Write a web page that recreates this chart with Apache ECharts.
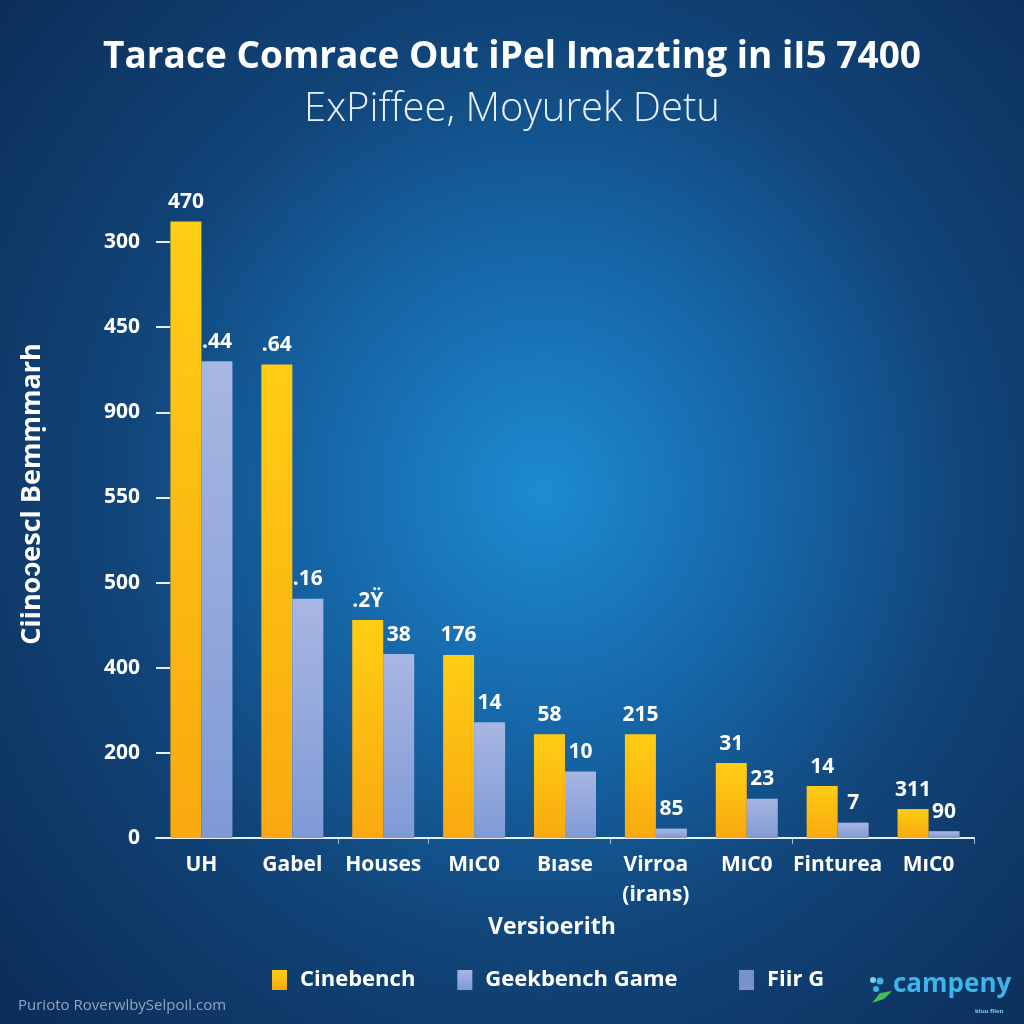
<!DOCTYPE html>
<html>
<head>
<meta charset="utf-8">
<script src="https://cdn.jsdelivr.net/npm/echarts@6/dist/echarts.min.js"></script>
<style>
html,body{margin:0;padding:0;}
#chart{width:1024px;height:1024px;background:radial-gradient(ellipse 70% 75% at 53% 48%, #1d8bd0 0%, #1668aa 30%, #114478 60%, #0c2d58 100%);}
</style>
</head>
<body>
<div id="chart"></div>
<script>
const categories = ['UH', 'Gabel', 'Houses', 'MıC0', 'Bıase', 'Virroa\n(irans)', 'MıC0', 'Finturea', 'MıC0'];
const yTickLabels = ['0', '200', '400', '500', '550', '900', '450', '300'];
const cinebench = [7.24, 5.56, 2.56, 2.15, 1.22, 1.22, 0.88, 0.61, 0.34];
const geekbench = [5.60, 2.81, 2.16, 1.36, 0.78, 0.11, 0.46, 0.18, 0.08];
const cinebenchLabels = ['470', '.64', '.2\u0178', '176', '58', '215', '31', '14', '311'];
const geekbenchLabels = ['.44', '.16', '38', '14', '10', '85', '23', '7', '90'];
const seriesNames = ['Cinebench', 'Geekbench Game', 'Fiir G'];

const FONT = '"Open Sans", "Noto Sans", sans-serif';
const chart = echarts.init(document.getElementById('chart'), null, {renderer: 'canvas'});

const labelStyle = {
  show: true, position: 'top', distance: 9,
  color: '#ffffff', fontFamily: FONT, fontWeight: 'bold', fontSize: 21
};
const legendText = {color: '#ffffff', fontFamily: FONT, fontWeight: 'bold', fontSize: 22, padding: [0, 0, 0, 8]};

chart.setOption({
  backgroundColor: 'transparent',
  title: [
    {text: 'Tarace Comrace Out iPel Imazting in iI5 7400', left: 'center', top: 34,
     textStyle: {color: '#ffffff', fontFamily: FONT, fontWeight: 'bold', fontSize: 37}},
    {text: 'ExPiffee, Moyurek Detu', left: 'center', top: 85,
     textStyle: {color: '#e8f0fa', fontFamily: FONT, fontWeight: 300, fontSize: 40}}
  ],
  legend: [
    {left: 267, top: 964, itemWidth: 15, itemHeight: 20, itemGap: 42, icon: 'rect',
     data: [seriesNames[0], seriesNames[1]], textStyle: legendText},
    {left: 734, top: 964, itemWidth: 15, itemHeight: 20, icon: 'rect',
     data: [seriesNames[2]], textStyle: legendText}
  ],
  grid: {left: 156, right: 50, top: 242, bottom: 186, containLabel: false},
  xAxis: {
    type: 'category', data: categories,
    axisLine: {show: true, lineStyle: {color: '#e6eef8', width: 2}},
    axisTick: {show: true, length: 6, interval: function (i) { return i === 2 || i === 3 || i === 5 || i === 7; },
      lineStyle: {color: 'rgba(230,238,248,0.7)', width: 1}},
    axisLabel: {color: '#ffffff', fontFamily: FONT, fontWeight: 'bold', fontSize: 21, margin: 12, lineHeight: 30, interval: 0},
    name: 'Versioerith', nameLocation: 'middle', nameGap: 78,
    nameTextStyle: {color: '#ffffff', fontFamily: FONT, fontWeight: 'bold', fontSize: 23, padding: [0, 26, 0, 0]}
  },
  yAxis: {
    type: 'value', min: 0, max: 7, interval: 1,
    axisLine: {show: false},
    axisTick: {show: true, inside: true, length: 14, lineStyle: {color: '#e6eef8', width: 2}},
    splitLine: {show: false},
    axisLabel: {color: '#ffffff', fontFamily: FONT, fontWeight: 'bold', fontSize: 21, margin: 16,
      formatter: function (v) { return Number.isInteger(v) ? (yTickLabels[v] || '') : ''; }}
  },
  series: [
    {
      name: seriesNames[0], type: 'bar', data: cinebench, barWidth: 31, barGap: '0%', clip: false,
      itemStyle: {color: new echarts.graphic.LinearGradient(0, 0, 0, 1, [
        {offset: 0, color: '#ffcd14'}, {offset: 1, color: '#f9a90f'}])},
      label: Object.assign({}, labelStyle, {formatter: function (p) { return cinebenchLabels[p.dataIndex]; }})
    },
    {
      name: seriesNames[1], type: 'bar', data: geekbench, barWidth: 31, barGap: '0%', clip: false,
      itemStyle: {color: new echarts.graphic.LinearGradient(0, 0, 0, 1, [
        {offset: 0, color: '#a8b6e2'}, {offset: 1, color: '#7e9ad6'}])},
      label: Object.assign({}, labelStyle, {formatter: function (p) { return geekbenchLabels[p.dataIndex]; }})
    },
    {
      name: seriesNames[2], type: 'scatter', data: [],
      itemStyle: {color: '#93a8dd'}
    }
  ],
  graphic: [
    {type: 'text', x: 32, y: 494, rotation: Math.PI / 2,
     style: {text: 'Ciinoɔescl Bemṃmarh', fill: '#ffffff', font: 'bold 27px "Open Sans", sans-serif',
       textAlign: 'center', textVerticalAlign: 'middle'}},
    {type: 'text', left: 18, top: 998,
     style: {text: 'Purioto RoverwlbySelpoil.com', fill: '#8fa4c0', font: '15px "Open Sans", sans-serif'}},
    {type: 'text', left: 893, top: 972,
     style: {text: 'campeny', fill: '#3cb6ea', font: 'bold 26px "Open Sans", sans-serif'}},
    {type: 'text', left: 975, top: 1008,
     style: {text: 'bluu flien', fill: '#7fc8ea', font: 'bold 6px "Open Sans", sans-serif'}},
    {type: 'circle', shape: {cx: 873, cy: 980, r: 3}, style: {fill: '#7fd0f0'}},
    {type: 'circle', shape: {cx: 880, cy: 981, r: 3.5}, style: {fill: '#3cb6ea'}},
    {type: 'circle', shape: {cx: 876, cy: 989, r: 3}, style: {fill: '#3cb6ea'}},
    {type: 'polygon', shape: {points: [[872, 1003], [880, 993], [892, 991], [884, 999]]}, style: {fill: '#3fbf5a'}}
  ]
});
</script>
</body>
</html>
